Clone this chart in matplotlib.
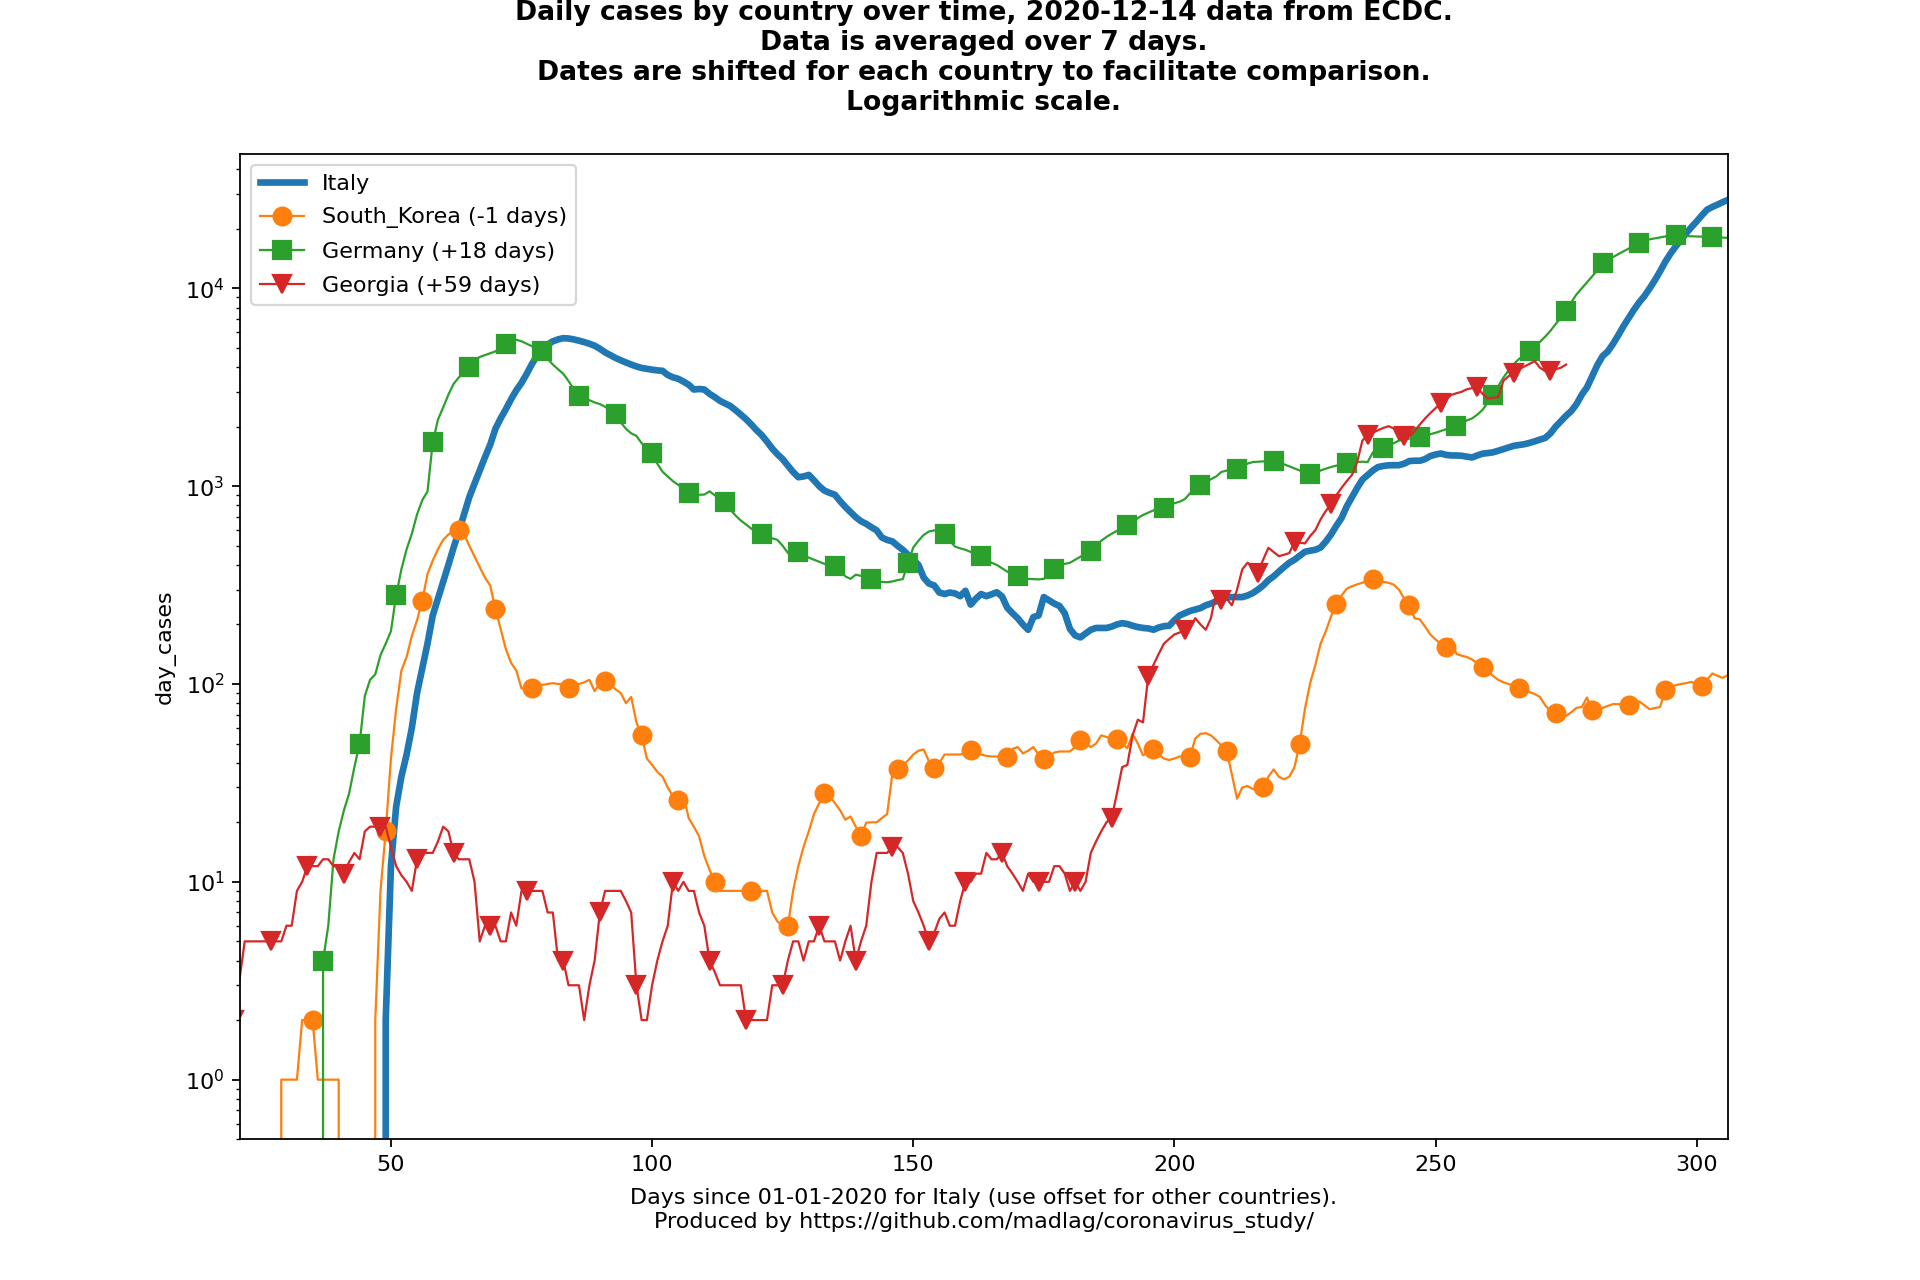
import numpy as np
import matplotlib
matplotlib.use("Agg")
import matplotlib.pyplot as plt

# data: 7 day averaged daily cases, one value per day, rows of 7 days
# Italy starts at day 48
italy_start = 48
italy_cases = [
    0, 2, 12, 24, 34, 44, 60,
    90, 120, 160, 222, 270, 327, 400,
    490, 590, 720, 880, 1030, 1200, 1400,
    1620, 1950, 2200, 2450, 2750, 3050, 3330,
    3700, 4150, 4580, 4950, 5200, 5400, 5520,
    5600, 5580, 5520, 5440, 5350, 5250, 5130,
    4950, 4750, 4600, 4450, 4330, 4220, 4120,
    4030, 3960, 3920, 3880, 3850, 3830, 3650,
    3550, 3490, 3380, 3260, 3080, 3100, 3080,
    2930, 2820, 2700, 2620, 2540, 2420, 2300,
    2180, 2050, 1920, 1810, 1680, 1550, 1450,
    1370, 1270, 1180, 1110, 1120, 1140, 1070,
    1000, 950, 925, 905, 840, 785, 740,
    697, 665, 645, 620, 598, 550, 535,
    526, 500, 477, 450, 425, 400, 345,
    322, 315, 290, 285, 290, 287, 278,
    296, 252, 270, 285, 278, 284, 291,
    277, 243, 228, 215, 200, 188, 218,
    222, 275, 265, 255, 248, 228, 190,
    176, 172, 180, 188, 192, 192, 192,
    195, 200, 203, 201, 197, 194, 192,
    191, 188, 193, 196, 197, 210, 222,
    228, 234, 238, 242, 250, 255, 262,
    270, 274, 275, 275, 275, 280, 288,
    300, 315, 335, 350, 370, 390, 410,
    425, 445, 466, 472, 477, 490, 525,
    570, 630, 690, 790, 880, 980, 1080,
    1138, 1200, 1250, 1265, 1275, 1277, 1277,
    1300, 1340, 1345, 1345, 1370, 1420, 1445,
    1463, 1440, 1430, 1430, 1425, 1410, 1397,
    1430, 1460, 1470, 1483, 1510, 1540, 1570,
    1600, 1615, 1630, 1655, 1685, 1720, 1753,
    1850, 2000, 2130, 2270, 2400, 2600, 2900,
    3160, 3600, 4100, 4550, 4800, 5250, 5800,
    6450, 7100, 7800, 8500, 9150, 10000, 11000,
    12200, 13640, 15000, 16300, 17600, 19000, 20400,
    21800, 23400, 25000, 25800, 26500, 27300, 28000,
]

# South Korea (-1 days), starts at day 21
korea_start = 21
korea_cases = [
    0, 0, 0, 0, 0, 0, 0,
    0, 1, 1, 1, 1, 2, 2,
    2, 1, 1, 1, 1, 1, 0,
    0, 0, 0, 0, 0, 2, 9,
    18, 42, 75, 117, 137, 175, 210,
    264, 360, 420, 480, 535, 570, 590,
    603, 570, 500, 441, 390, 345, 315,
    239, 190, 150, 128, 117, 95, 95,
    95, 97, 99, 100, 101, 100, 100,
    95, 98, 100, 102, 105, 92, 101,
    103, 100, 94, 90, 80, 86, 64,
    55, 42, 39, 36, 34, 30, 27,
    26, 27.5, 21, 19, 17, 13.5, 11.5,
    10, 9, 9, 9, 9, 9, 9,
    9, 8.3, 9, 9, 7, 6.3, 6,
    6, 9, 12, 15, 18, 22, 25,
    28, 27, 25, 23, 20.6, 21.4, 19,
    17, 19.9, 20, 20, 21, 22, 35,
    37, 39, 41, 44, 46, 46.7, 40.7,
    37.8, 40, 44, 44, 44, 44, 45,
    46.6, 45, 44, 43.3, 43, 43, 43,
    43, 47, 48, 44.6, 46, 48, 44,
    41.7, 43, 45, 45.6, 45.6, 45.6, 48,
    52, 50, 48, 50, 55, 54, 53,
    53, 50, 47.4, 56, 50, 43.6, 45,
    46.7, 44, 42, 41.3, 42, 43, 43,
    43, 53, 56, 56.4, 55, 52, 49,
    46, 35, 26.3, 30, 30.5, 29.5, 29,
    30, 34, 37, 34, 33, 34, 38,
    50, 75, 101, 125, 160, 185, 220,
    254, 280, 303, 312, 319, 325, 332,
    339, 333, 328, 325, 318, 300, 270,
    250, 215, 212, 195, 178, 168, 160,
    153, 169, 142, 139, 137, 133, 127,
    122, 116, 110, 105, 102, 100, 98,
    96, 94, 91, 89, 86, 78, 73,
    71, 70, 69, 72, 75.8, 76.5, 85.5,
    73.5, 74.5, 75.8, 77.5, 79.2, 79, 78.8,
    78.7, 80, 81.7, 78, 74.6, 75.5, 76.5,
    93.6, 96, 98.7, 100, 101, 102.5, 100,
    97.2, 105, 113, 110, 107.4, 111,
]

# Germany (+18 days), starts at day 36
germany_start = 36
germany_cases = [
    0, 4, 6, 13, 18, 23, 28,
    38, 50, 87, 105, 112, 140, 160,
    185, 281, 380, 480, 575, 720, 850,
    940, 1663, 2170, 2500, 2900, 3290, 3550,
    3750, 4000, 4300, 4500, 4600, 4700, 4800,
    5000, 5260, 5400, 5500, 5400, 5250, 5100,
    4950, 4800, 4400, 4120, 3900, 3700, 3400,
    3100, 2870, 2780, 2720, 2650, 2600, 2520,
    2420, 2320, 2100, 1950, 1850, 1795, 1650,
    1550, 1473, 1300, 1183, 1120, 1060, 1016,
    970, 929, 915, 905, 907, 942, 900,
    860, 829, 760, 710, 670, 640, 610,
    590, 576, 560, 545, 535, 500, 460,
    460, 463, 450, 435, 425, 415, 405,
    400, 395, 375, 350, 340, 357, 352,
    345, 339, 333, 328, 327, 330, 335,
    339, 410, 490, 530, 567, 590, 598,
    590, 572, 530, 495, 485, 477, 465,
    450, 442, 425, 410, 400, 385, 370,
    360, 352, 345, 340, 339, 338, 340,
    360, 380, 395, 405, 410, 425, 440,
    455, 470, 500, 530, 554, 575, 595,
    615, 636, 660, 690, 715, 735, 755,
    770, 780, 800, 820, 835, 860, 920,
    980, 1016, 1050, 1085, 1120, 1180, 1200,
    1215, 1227, 1260, 1300, 1324, 1330, 1335,
    1335, 1334, 1320, 1290, 1260, 1230, 1200,
    1170, 1147, 1170, 1200, 1227, 1250, 1270,
    1290, 1305, 1315, 1324, 1330, 1324, 1480,
    1520, 1553, 1600, 1650, 1700, 1720, 1740,
    1755, 1766, 1800, 1830, 1862, 1900, 1940,
    1975, 2010, 2080, 2150, 2200, 2300, 2430,
    2650, 2889, 3200, 3540, 3850, 4150, 4400,
    4600, 4800, 5100, 5370, 5700, 6100, 6600,
    7100, 7720, 8500, 9330, 10000, 10700, 11500,
    12400, 13440, 14000, 14400, 14900, 15400, 15900,
    16400, 16860, 17300, 17700, 17900, 18100, 18300,
    18500, 18600, 18500, 18400, 18330, 18300, 18250,
    18200, 18200, 18100, 18050, 18000,
]

# Georgia (+59 days), starts at day 20
georgia_start = 20
georgia_cases = [
    2, 3.2, 5, 5, 5, 5, 5,
    5, 5, 5, 6, 6, 9, 10,
    12, 12, 12, 13, 13, 12, 12,
    11, 12.6, 14, 13, 18, 19, 19,
    19, 19, 15, 12, 10.8, 10, 9,
    13, 14, 14, 14, 16, 19, 18,
    14, 13, 13, 13, 10, 5, 6,
    6, 6, 5, 5, 7, 6, 9,
    9, 9, 9, 9, 7, 7, 4,
    4, 3, 3, 3, 2, 3, 4,
    7, 9, 9, 9, 9, 8, 7,
    3, 2, 2, 3, 4, 5, 6,
    10, 9, 10, 9, 9, 7, 6,
    4, 3.5, 3, 3, 3, 3, 3,
    2, 2, 2, 2, 2, 3, 3,
    3, 4, 5, 5, 4, 5, 5,
    6, 5, 5, 5, 4, 5, 6,
    4, 5, 6, 10, 14, 14, 14,
    15, 15, 14, 11, 8, 7, 6,
    5, 5.5, 6.5, 7, 6, 6, 8,
    10, 10, 11, 11, 14, 13, 13,
    14, 12, 11, 10, 9, 11, 10,
    10, 10, 10, 12, 12, 11, 9,
    10, 9, 10, 14, 16, 18, 20,
    21, 28, 38, 39, 55, 66, 64,
    110, 125, 142, 160, 169, 178, 182,
    188, 192, 215, 200, 188, 215, 291,
    266, 270, 250, 300, 380, 410, 395,
    366, 425, 488, 465, 443, 450, 459,
    522, 518, 514, 560, 600, 680, 750,
    809, 900, 980, 1060, 1140, 1324, 1700,
    1820, 1862, 1920, 1970, 2010, 1960, 1725,
    1790, 1790, 1900, 2050, 2200, 2340, 2480,
    2620, 2750, 2889, 2950, 3000, 3090, 3130,
    3160, 2930, 2780, 2800, 2820, 3410, 3600,
    3740, 3900, 4030, 4150, 4290, 3970, 3820,
    3820, 3900, 3970, 4120,
]

title = ("Daily cases by country over time, 2020-12-14 data from ECDC.\n"
         "Data is averaged over 7 days.\n"
         "Dates are shifted for each country to facilitate comparison.\n"
         "Logarithmic scale.\n")
xlabel = ("Days since 01-01-2020 for Italy (use offset for other countries).\n"
          "Produced by https://github.com/madlag/coronavirus_study/")


def days_for(start, values):
    return np.arange(start, start + len(values))


fig = plt.figure(figsize=(12, 8), dpi=160)
ax = fig.add_subplot(111)

ax.plot(days_for(italy_start, italy_cases), italy_cases,
        color="C0", linewidth=3, label="Italy")
ax.plot(days_for(korea_start, korea_cases), korea_cases,
        color="C1", linewidth=1, marker="o", markersize=8, markevery=7,
        label="South_Korea (-1 days)")
# first point of germany is a zero, markers start at the second one
ax.plot(days_for(germany_start, germany_cases), germany_cases,
        color="C2", linewidth=1, marker="s", markersize=8, markevery=(1, 7),
        label="Germany (+18 days)")
ax.plot(days_for(georgia_start, georgia_cases), georgia_cases,
        color="C3", linewidth=1, marker="v", markersize=8, markevery=7,
        label="Georgia (+59 days)")

ax.set_yscale("log")
ax.set_xlim(21.1, 306)
ax.set_ylim(0.5, 4.8e4)
ax.set_title(title, fontweight="bold")
ax.set_xlabel(xlabel, labelpad=6, linespacing=1.26)
ax.set_ylabel("day_cases")
ax.legend(loc="upper left", labelspacing=0.62)

fig.savefig("out.png")
